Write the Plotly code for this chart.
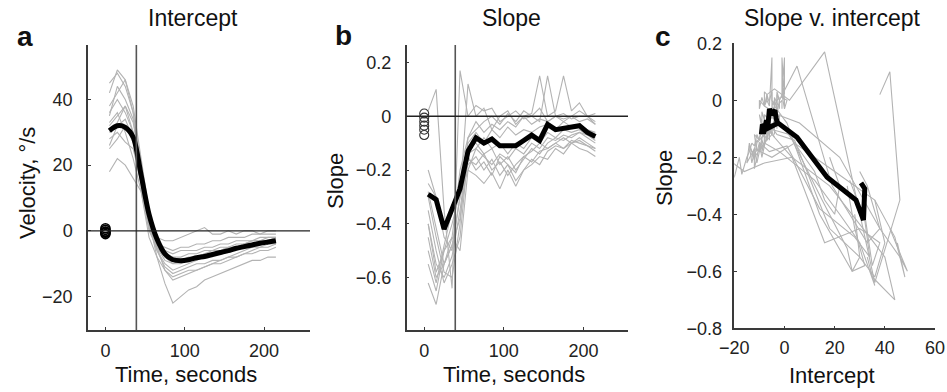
import plotly.graph_objects as go

# ---------------- data ----------------
time_s = [5, 15, 25, 35, 45, 55, 65, 75, 85, 95, 105, 115, 125, 135, 145, 155, 165, 175, 185, 195, 205, 215]

# per-subject intercepts (deg/s)
intercept_s01 = [42, 49, 46, 38, 22, 6, -3, -8, -10, -10, -9, -8, -7, -7, -6, -5, -5, -4, -3, -3, -2, -2]
intercept_s02 = [45, 48, 44, 36, 20, 4, -5, -12, -15, -14, -13, -12, -11, -10, -9, -8, -7, -6, -5, -5, -4, -4]
intercept_s03 = [35, 44, 40, 34, 18, 3, -8, -16, -22, -20, -18, -17, -15, -14, -13, -12, -11, -10, -9, -9, -8, -8]
intercept_s04 = [38, 42, 46, 36, 16, 2, -4, -7, -8, -8, -7, -7, -6, -6, -5, -5, -4, -4, -3, -3, -3, -2]
intercept_s05 = [30, 33, 38, 33, 19, 5, -2, -3, -3, -2, -1, 0, 1, -1, -1, 0, -1, 0, 0, -1, 0, 0]
intercept_s06 = [28, 30, 27, 25, 15, 2, -6, -10, -12, -11, -10, -9, -8, -7, -7, -6, -5, -5, -4, -4, -3, -3]
intercept_s07 = [18, 22, 20, 16, 12, 0, -5, -9, -10, -9, -9, -8, -8, -7, -6, -6, -5, -4, -4, -3, -3, -2]
intercept_s08 = [33, 36, 30, 22, 12, -2, -8, -12, -14, -13, -12, -12, -11, -10, -10, -9, -8, -7, -6, -5, -5, -4]
intercept_s09 = [25, 28, 32, 27, 14, 1, -4, -5, -6, -5, -5, -4, -4, -3, -3, -2, -2, -2, -1, -1, -1, -1]
intercept_s10 = [36, 40, 36, 30, 18, 4, -3, -6, -7, -6, -6, -6, -5, -5, -4, -4, -3, -3, -3, -2, -2, -2]
intercept_s11 = [32, 35, 38, 30, 16, 3, -5, -8, -9, -9, -8, -8, -7, -6, -6, -5, -5, -4, -4, -3, -3, -3]
intercept_s12 = [26, 32, 34, 28, 14, 1, -6, -11, -13, -12, -11, -10, -10, -9, -9, -8, -8, -7, -7, -6, -6, -5]

# per-subject slopes
slope_s01 = [-0.45, -0.60, -0.55, -0.45, -0.20, -0.08, -0.05, -0.02, 0.00, -0.03, 0.01, -0.02, 0.02, 0.00, -0.02, 0.15, 0.00, -0.02, 0.00, 0.02, 0.00, -0.03]
slope_s02 = [-0.50, -0.62, -0.48, -0.35, -0.25, -0.15, -0.20, -0.17, -0.22, -0.15, -0.18, -0.21, -0.15, -0.13, -0.10, -0.12, -0.10, -0.08, -0.10, -0.08, -0.10, -0.12]
slope_s03 = [-0.62, -0.70, -0.55, -0.48, -0.30, -0.20, -0.22, -0.25, -0.21, -0.27, -0.20, -0.26, -0.20, -0.18, -0.15, -0.16, -0.12, -0.14, -0.10, -0.12, -0.13, -0.15]
slope_s04 = [0.02, 0.10, -0.35, -0.64, 0.17, 0.00, 0.04, 0.02, 0.03, -0.02, 0.00, 0.02, -0.01, 0.00, 0.03, -0.02, 0.00, 0.01, -0.01, 0.00, 0.00, 0.01]
slope_s05 = [-0.25, -0.30, -0.45, -0.50, -0.30, 0.12, 0.00, 0.03, -0.05, 0.00, 0.02, -0.03, 0.00, 0.01, 0.15, 0.00, 0.02, 0.15, 0.02, 0.05, 0.00, -0.02]
slope_s06 = [-0.40, -0.55, -0.60, -0.52, -0.35, -0.12, -0.10, -0.14, -0.12, -0.18, -0.15, -0.20, -0.16, -0.12, -0.14, -0.10, -0.08, -0.09, -0.07, -0.06, -0.08, -0.10]
slope_s07 = [-0.20, -0.30, -0.40, -0.35, -0.25, -0.10, -0.06, -0.10, -0.05, -0.08, -0.04, -0.07, -0.05, -0.06, -0.04, -0.03, -0.05, -0.02, -0.04, -0.03, -0.05, -0.06]
slope_s08 = [-0.55, -0.65, -0.50, -0.40, -0.28, -0.18, -0.15, -0.20, -0.16, -0.22, -0.18, -0.24, -0.20, -0.16, -0.18, -0.13, -0.11, -0.12, -0.10, -0.09, -0.11, -0.13]
slope_s09 = [-0.30, -0.45, -0.58, -0.60, -0.40, -0.08, -0.02, -0.06, -0.03, -0.05, -0.02, -0.04, 0.00, -0.03, -0.01, -0.02, 0.00, -0.01, 0.00, -0.02, -0.01, -0.03]
slope_s10 = [-0.35, -0.50, -0.62, -0.55, -0.45, -0.14, -0.12, -0.08, -0.12, -0.10, -0.14, -0.10, -0.12, -0.08, -0.10, -0.06, -0.08, -0.05, -0.06, -0.05, -0.07, -0.08]
slope_s11 = [-0.40, -0.58, -0.50, -0.45, -0.50, -0.20, -0.12, -0.15, -0.18, -0.14, -0.16, -0.12, -0.14, -0.10, -0.12, -0.08, -0.09, -0.07, -0.08, -0.06, -0.07, -0.09]
slope_s12 = [-0.28, -0.42, -0.55, -0.48, -0.38, -0.16, -0.18, -0.14, -0.20, -0.17, -0.22, -0.18, -0.15, -0.17, -0.13, -0.12, -0.10, -0.12, -0.09, -0.10, -0.11, -0.12]

# group means (thick black)
mean_intercept = [30.5, 32, 31.5, 28.5, 17, 5, -2.5, -7, -8.8, -9.1, -8.8, -8.2, -7.8, -7.2, -6.6, -6, -5.3, -4.8, -4.3, -3.8, -3.4, -3]
mean_slope = [-0.29, -0.31, -0.42, -0.35, -0.27, -0.13, -0.08, -0.10, -0.085, -0.11, -0.11, -0.11, -0.09, -0.07, -0.09, -0.03, -0.05, -0.045, -0.04, -0.035, -0.06, -0.075]

# pre-test baseline values (open circles at t = 0)
baseline_time = 0
baseline_intercept = [0.8, 0.3, -0.2, -0.6, -1.0, -0.4]
baseline_slope = [0.01, -0.005, -0.02, -0.035, -0.05, -0.07]

onset_time = 39

intercept_ticks = [-20, 0, 20, 40]
time_ticks = [0, 100, 200]
slope_ticks_b = [-0.6, -0.4, -0.2, 0, 0.2]
slope_ticks_c = [-0.8, -0.6, -0.4, -0.2, 0, 0.2]
intercept_ticks_c = [-20, 0, 20, 40, 60]

intercepts = [intercept_s01, intercept_s02, intercept_s03, intercept_s04, intercept_s05, intercept_s06,
              intercept_s07, intercept_s08, intercept_s09, intercept_s10, intercept_s11, intercept_s12]
slopes = [slope_s01, slope_s02, slope_s03, slope_s04, slope_s05, slope_s06,
          slope_s07, slope_s08, slope_s09, slope_s10, slope_s11, slope_s12]

# ---------------- figure ----------------
W, H = 947, 392
FONT = "Liberation Sans, Arial, Helvetica, sans-serif"
GRAY = "#b3b3b3"
AX = "#3a3a3a"

fig = go.Figure()

def px_x(p):
    return p / W

def px_y(p):
    return 1 - p / H

for ys in intercepts:
    fig.add_trace(go.Scatter(x=time_s, y=ys, mode="lines", line=dict(color=GRAY, width=1.1),
                             xaxis="x", yaxis="y", showlegend=False, hoverinfo="skip"))
fig.add_trace(go.Scatter(x=time_s, y=mean_intercept, mode="lines",
                         line=dict(color="black", width=5, shape="spline", smoothing=0.8),
                         xaxis="x", yaxis="y", showlegend=False))
fig.add_trace(go.Scatter(x=[baseline_time] * len(baseline_intercept), y=baseline_intercept, mode="markers",
                         marker=dict(symbol="circle-open", size=9, color="black", line=dict(width=1.6)),
                         xaxis="x", yaxis="y", showlegend=False))

for ys in slopes:
    fig.add_trace(go.Scatter(x=time_s, y=ys, mode="lines", line=dict(color=GRAY, width=1.1),
                             xaxis="x2", yaxis="y2", showlegend=False, hoverinfo="skip"))
fig.add_trace(go.Scatter(x=time_s, y=mean_slope, mode="lines", line=dict(color="black", width=5),
                         xaxis="x2", yaxis="y2", showlegend=False))
fig.add_trace(go.Scatter(x=[baseline_time] * len(baseline_slope), y=baseline_slope, mode="markers",
                         marker=dict(symbol="circle-open", size=9, color="#333", line=dict(width=1.1)),
                         xaxis="x2", yaxis="y2", showlegend=False))

for xs, ys in zip(intercepts, slopes):
    fig.add_trace(go.Scatter(x=xs, y=ys, mode="lines", line=dict(color=GRAY, width=1.1),
                             xaxis="x3", yaxis="y3", showlegend=False, hoverinfo="skip"))
fig.add_trace(go.Scatter(x=mean_intercept, y=mean_slope, mode="lines", line=dict(color="black", width=5),
                         xaxis="x3", yaxis="y3", showlegend=False))

common = dict(showline=True, linecolor=AX, linewidth=1.5, ticks="inside", ticklen=3, tickcolor=AX,
              showgrid=False, zeroline=False, tickfont=dict(size=18, color="#222", family=FONT),
              mirror=False, automargin=False)

ydom = [px_y(330), px_y(45)]
fig.update_layout(
    width=W, height=H, margin=dict(l=0, r=0, t=0, b=0, pad=0, autoexpand=False),
    paper_bgcolor="white", plot_bgcolor="white",
    font=dict(family=FONT, color="#222"),
    xaxis=dict(domain=[px_x(88), px_x(310)], range=[-22, 258], tickvals=time_ticks, anchor="y",
               ticklabelstandoff=4, **common),
    yaxis=dict(domain=ydom, range=[-30.2, 56.6], tickvals=intercept_ticks, anchor="x",
               ticklabelstandoff=10, **common),
    xaxis2=dict(domain=[px_x(406.7), px_x(628)], range=[-22, 256], tickvals=time_ticks, anchor="y2",
                ticklabelstandoff=4, **common),
    yaxis2=dict(domain=ydom, range=[-0.795, 0.265], tickvals=slope_ticks_b, anchor="x2",
                ticklabelstandoff=10, **common),
    xaxis3=dict(domain=[px_x(734.3), px_x(935)], range=[-20, 60], tickvals=intercept_ticks_c, anchor="y3",
                ticklabelstandoff=2, **common),
    yaxis3=dict(domain=[px_y(328.3), px_y(43.3)], range=[-0.8, 0.2], tickvals=slope_ticks_c, anchor="x3",
                ticklabelstandoff=7, **common),
)

shapes = []
for xa, ya in (("x", "y"), ("x2", "y2")):
    shapes.append(dict(type="line", xref=xa, yref=ya + " domain", x0=onset_time, x1=onset_time, y0=0, y1=1,
                       line=dict(color="#555", width=1.6), layer="above"))
    shapes.append(dict(type="line", xref=xa + " domain", yref=ya, x0=0, x1=1, y0=0, y1=0,
                       line=dict(color="#222", width=1.3), layer="above"))
fig.update_layout(shapes=shapes)

def ann(text, x, y, size, bold=False, angle=0):
    fig.add_annotation(text=("<b>%s</b>" % text) if bold else text, x=px_x(x), y=px_y(y),
                       xref="paper", yref="paper", showarrow=False, textangle=angle,
                       xanchor="center", yanchor="middle",
                       font=dict(size=size, family=FONT, color="#111"))

ann("Intercept", 193, 18, 23)
ann("Slope", 511, 18, 23)
ann("Slope v. intercept", 832, 18, 23)
ann("a", 25, 36, 28, bold=True)
ann("b", 343, 35, 28, bold=True)
ann("c", 663, 37, 28, bold=True)
ann("Time, seconds", 186, 374, 22)
ann("Time, seconds", 514, 374, 22)
ann("Intercept", 832, 375, 22)
ann("Velocity, °/s", 27, 183, 22, angle=-90)
ann("Slope", 335, 181, 22, angle=-90)
ann("Slope", 664, 178, 22, angle=-90)

fig.write_html("out.html")
